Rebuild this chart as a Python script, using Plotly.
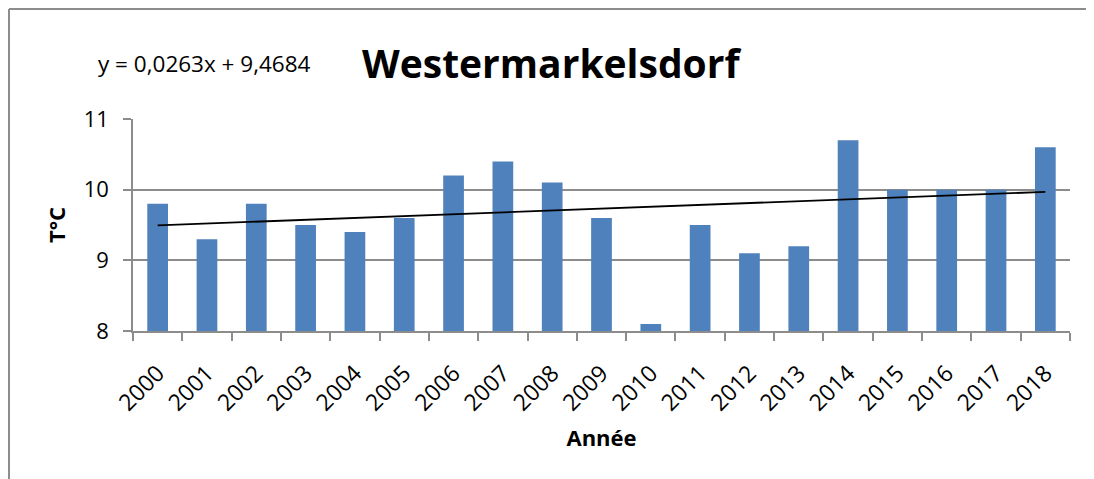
import plotly.graph_objects as go

years = ["2000", "2001", "2002", "2003", "2004", "2005", "2006", "2007", "2008", "2009",
         "2010", "2011", "2012", "2013", "2014", "2015", "2016", "2017", "2018"]
temps = [9.8, 9.3, 9.8, 9.5, 9.4, 9.6, 10.2, 10.4, 10.1, 9.6,
         8.1, 9.5, 9.1, 9.2, 10.7, 10.0, 10.0, 10.0, 10.6]
slope = 0.0263
intercept = 9.4684
trend = [slope * (i + 1) + intercept for i in range(len(years))]

FONT = "Open Sans"
GRID = "#8c8c8c"

# page offset of 8px (body margin); plot area in page px: x 133..1070, y 119..331
L, R, T, B = 125, 1062, 111, 323
W, H = 1094, 479


def px(xp):
    return (xp - 8 - L) / (R - L)


def py(yp):
    return (B - (yp - 8)) / (B - T)


fig = go.Figure()
fig.add_trace(go.Bar(x=years, y=temps, marker=dict(color="#4f81bd", line=dict(width=0)),
                     showlegend=False))
fig.add_trace(go.Scatter(x=years, y=trend, mode="lines", line=dict(color="black", width=1.8),
                         showlegend=False))

fig.update_layout(
    width=W, height=H,
    margin=dict(l=L, r=W - R, t=T, b=H - B),
    paper_bgcolor="white", plot_bgcolor="white",
    bargap=0.58,
    font=dict(family=FONT, color="black"),
    xaxis=dict(type="category", tickangle=-45, tickson="boundaries", ticks="outside",
               ticklen=8, tickcolor=GRID, tickwidth=1.5, showline=True, linecolor=GRID,
               linewidth=1.5, showgrid=False, tickfont=dict(size=23, family=FONT),
               ticklabelstandoff=18,
               title=dict(text="<b>Année</b>", font=dict(size=22, family=FONT), standoff=14)),
    yaxis=dict(range=[8, 11], dtick=1, ticks="outside", ticklen=8, tickcolor=GRID,
               tickwidth=1.5, showline=True, linecolor=GRID, linewidth=1.5,
               showgrid=True, gridcolor=GRID, gridwidth=1.5, zeroline=False,
               tickfont=dict(size=22, family=FONT), ticklabelstandoff=10,
               title=dict(text="<b>T°C</b>", font=dict(size=22, family=FONT), standoff=12)),
    annotations=[
        dict(text="<b>Westermarkelsdorf</b>", xref="paper", yref="paper",
             x=px(551), y=py(62), xanchor="center", yanchor="middle",
             showarrow=False, font=dict(size=39, family=FONT)),
        dict(text="y = 0,0263x + 9,4684", xref="paper", yref="paper",
             x=px(96), y=py(64), xanchor="left", yanchor="middle",
             showarrow=False, font=dict(size=22.5, family=FONT)),
    ],
    shapes=[
        dict(type="line", xref="paper", yref="paper", x0=px(9), x1=px(9),
             y0=py(9), y1=py(600), line=dict(color=GRID, width=2)),
        dict(type="line", xref="paper", yref="paper", x0=px(9), x1=px(1200),
             y0=py(9), y1=py(9), line=dict(color=GRID, width=2)),
    ],
)

fig.write_html("out.html")
